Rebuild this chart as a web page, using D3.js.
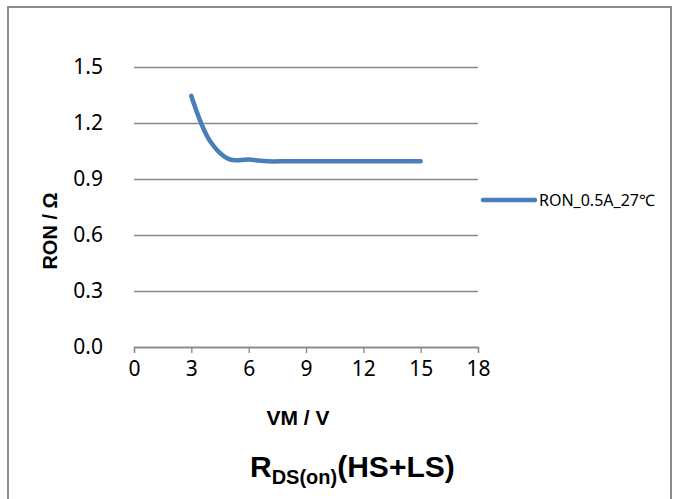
<!DOCTYPE html>
<html>
<head>
<meta charset="utf-8">
<script src="https://cdn.jsdelivr.net/npm/d3@7"></script>
<style>
  body { margin: 0; background: #fff; }
  svg { display: block; }
</style>
</head>
<body>
<div id="chart"></div>
<script>
// VM (V) vs RON (ohm)
const vm = [3, 4, 5, 6, 7, 8, 9, 10, 11, 12, 13, 14, 15];
const ron = [1.345, 1.10, 1.005, 1.004, 0.995, 0.995, 0.995, 0.995, 0.995, 0.995, 0.995, 0.995, 0.995];
const xTicks = [0, 3, 6, 9, 12, 15, 18];
const yTicks = [0, 0.3, 0.6, 0.9, 1.2, 1.5];
const seriesName = "RON_0.5A_27℃";

const width = 674;
const height = 499;
const blue = "#4a7ebb";
const gridColor = "#868686";
const tickFont = "'Noto Sans', sans-serif";
const boldFont = "'Liberation Sans', Arial, sans-serif";

const svg = d3.select("#chart")
  .append("svg")
  .attr("width", width)
  .attr("height", height);

// chart border
svg.append("rect")
  .attr("x", 8).attr("y", 7)
  .attr("width", 663).attr("height", 500)
  .attr("fill", "none")
  .attr("stroke", "#8c8c8c")
  .attr("stroke-width", 2);

const x = d3.scaleLinear().domain([0, 18]).range([134, 478]);
const y = d3.scaleLinear().domain([0, 1.5]).range([347, 67]);

// horizontal gridlines + y labels
const yAxis = svg.append("g")
  .attr("transform", `translate(${x(0)},0)`)
  .call(d3.axisLeft(y).tickValues(yTicks).tickFormat(d3.format(".1f"))
    .tickSize(-(x(18) - x(0))).tickPadding(31));
yAxis.select(".domain").remove();
yAxis.selectAll(".tick line").attr("stroke", gridColor).attr("stroke-width", 1.3);
yAxis.selectAll(".tick text")
  .attr("font-family", tickFont).attr("font-size", 21).attr("fill", "#000");

// x axis
const xAxis = svg.append("g")
  .attr("transform", `translate(0,${y(0)})`)
  .call(d3.axisBottom(x).tickValues(xTicks).tickSize(6).tickPadding(8));
xAxis.select(".domain").attr("stroke", gridColor).attr("stroke-width", 1.3);
xAxis.selectAll(".tick line").attr("stroke", gridColor).attr("stroke-width", 1.3);
xAxis.selectAll(".tick text")
  .attr("font-family", tickFont).attr("font-size", 21).attr("fill", "#000");

// the series, smoothed like the spreadsheet line
const line = d3.line()
  .x((d, i) => x(vm[i]))
  .y(d => y(d))
  .curve(d3.curveCatmullRom.alpha(0.5));

svg.append("path")
  .datum(ron)
  .attr("fill", "none")
  .attr("stroke", blue)
  .attr("stroke-width", 4.5)
  .attr("stroke-linecap", "round")
  .attr("d", line);

// axis titles
svg.append("text")
  .attr("transform", "translate(57,231) rotate(-90)")
  .attr("text-anchor", "middle")
  .attr("font-family", boldFont).attr("font-weight", "bold").attr("font-size", 20)
  .text("RON / Ω");

svg.append("text")
  .attr("x", 298).attr("y", 425)
  .attr("text-anchor", "middle")
  .attr("font-family", boldFont).attr("font-weight", "bold").attr("font-size", 21)
  .text("VM / V");

// chart title with subscript
const title = svg.append("text")
  .attr("x", 250).attr("y", 477)
  .attr("font-family", boldFont).attr("font-weight", "bold").attr("font-size", 30);
title.append("tspan").text("R");
title.append("tspan").attr("font-size", 20).attr("dy", 7).text("DS(on)");
title.append("tspan").attr("dy", -7).text("(HS+LS)");

// legend
svg.append("line")
  .attr("x1", 483).attr("x2", 535)
  .attr("y1", 200).attr("y2", 200)
  .attr("stroke", blue).attr("stroke-width", 4.5)
  .attr("stroke-linecap", "round");
svg.append("text")
  .attr("x", 539).attr("y", 206)
  .attr("font-family", tickFont).attr("font-size", 16)
  .text(seriesName);
</script>
</body>
</html>
